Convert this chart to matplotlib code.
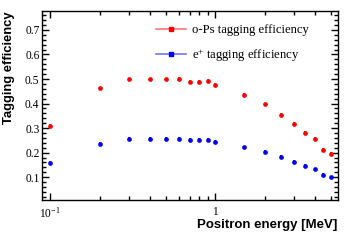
import matplotlib
matplotlib.use("Agg")
import matplotlib.pyplot as plt
from matplotlib.ticker import FixedLocator, NullFormatter, FixedFormatter
from matplotlib.lines import Line2D

energy = [0.1, 0.2, 0.3, 0.4, 0.5, 0.6, 0.7, 0.8, 0.9, 1.0,
          1.5, 2.0, 2.5, 3.0, 3.5, 4.0, 4.5, 5.0]
ops_eff = [0.310, 0.462, 0.499, 0.499, 0.499, 0.500, 0.488, 0.488, 0.492, 0.477,
           0.434, 0.397, 0.355, 0.316, 0.281, 0.257, 0.211, 0.196]
ep_eff = [0.159, 0.237, 0.256, 0.256, 0.256, 0.257, 0.251, 0.251, 0.252, 0.245,
          0.222, 0.204, 0.182, 0.162, 0.145, 0.132, 0.109, 0.100]
err = 0.007
labels = ["o-Ps tagging efficiency", "e$^{+}$ tagging efficiency"]
ytick_vals = [0.1, 0.2, 0.3, 0.4, 0.5, 0.6, 0.7]
ytick_labels = ["0.1", "0.2", "0.3", "0.4", "0.5", "0.6", "0.7"]

plt.rcParams["mathtext.fontset"] = "custom"
plt.rcParams["mathtext.rm"] = "Liberation Serif"
plt.rcParams["mathtext.it"] = "Liberation Serif:italic"

fig = plt.figure(figsize=(3.55, 2.4), dpi=100)
ax = fig.add_axes([42.3/355, 1-200.3/240, (337.5-42.3)/355, (200.3-11)/240])

ax.errorbar(energy, ops_eff, yerr=err, fmt="o", color="red", ms=3.4,
            elinewidth=1.2, capsize=0, mew=0)
ax.errorbar(energy, ep_eff, yerr=err, fmt="o", color="blue", ms=3.4,
            elinewidth=1.2, capsize=0, mew=0)

ax.set_xscale("log")
ax.set_xlim(0.0898, 5.49)
ax.set_ylim(0.006, 0.777)

ax.xaxis.set_major_locator(FixedLocator([0.1, 1.0]))
ax.xaxis.set_major_formatter(FixedFormatter(["10$^{-1}$", "1"]))
ax.xaxis.set_minor_locator(FixedLocator([0.2, 0.3, 0.4, 0.5, 0.6, 0.7, 0.8, 0.9, 2, 3, 4, 5]))
ax.xaxis.set_minor_formatter(NullFormatter())
ax.yaxis.set_major_locator(FixedLocator(ytick_vals))
ax.yaxis.set_major_formatter(FixedFormatter(ytick_labels))
ax.yaxis.set_minor_locator(FixedLocator([i * 0.02 for i in range(1, 39)]))

ax.tick_params(which="both", direction="in", top=True, right=True, width=1.0,
               labelsize=8.3, colors="black")
ax.tick_params(which="major", length=5)
ax.tick_params(which="minor", length=3)
ax.tick_params(axis="x", pad=4)
ax.tick_params(axis="y", pad=2)
for lab in ax.get_xticklabels() + ax.get_yticklabels():
    lab.set_family("Liberation Serif")
for s in ax.spines.values():
    s.set_linewidth(1.0)

ax.set_xlabel("Positron energy [MeV]", fontsize=9.5, fontweight="bold",
              family="Liberation Sans")
ax.xaxis.set_label_coords(1.0, -0.10)
ax.xaxis.label.set_horizontalalignment("right")
ax.set_ylabel("Tagging efficiency", fontsize=9.4, fontweight="bold",
              family="Liberation Sans")
ax.yaxis.set_label_coords(-0.094, 1.0)
ax.yaxis.label.set_horizontalalignment("right")

handles = [Line2D([], [], color=(1, 0.45, 0.45), lw=1.2, marker="s", ms=2.5,
                  mfc="red", mec="red"),
           Line2D([], [], color=(0.45, 0.45, 1), lw=1.2, marker="s", ms=2.5,
                  mfc="blue", mec="blue")]
ax.legend(handles, labels, loc="upper left", bbox_to_anchor=(0.385, 0.93),
          frameon=False, prop={"family": "Liberation Serif", "size": 9.1},
          handlelength=2.35, handletextpad=0.5, labelspacing=0.85,
          borderpad=0, borderaxespad=0)

fig.savefig("out.png", dpi=100)
